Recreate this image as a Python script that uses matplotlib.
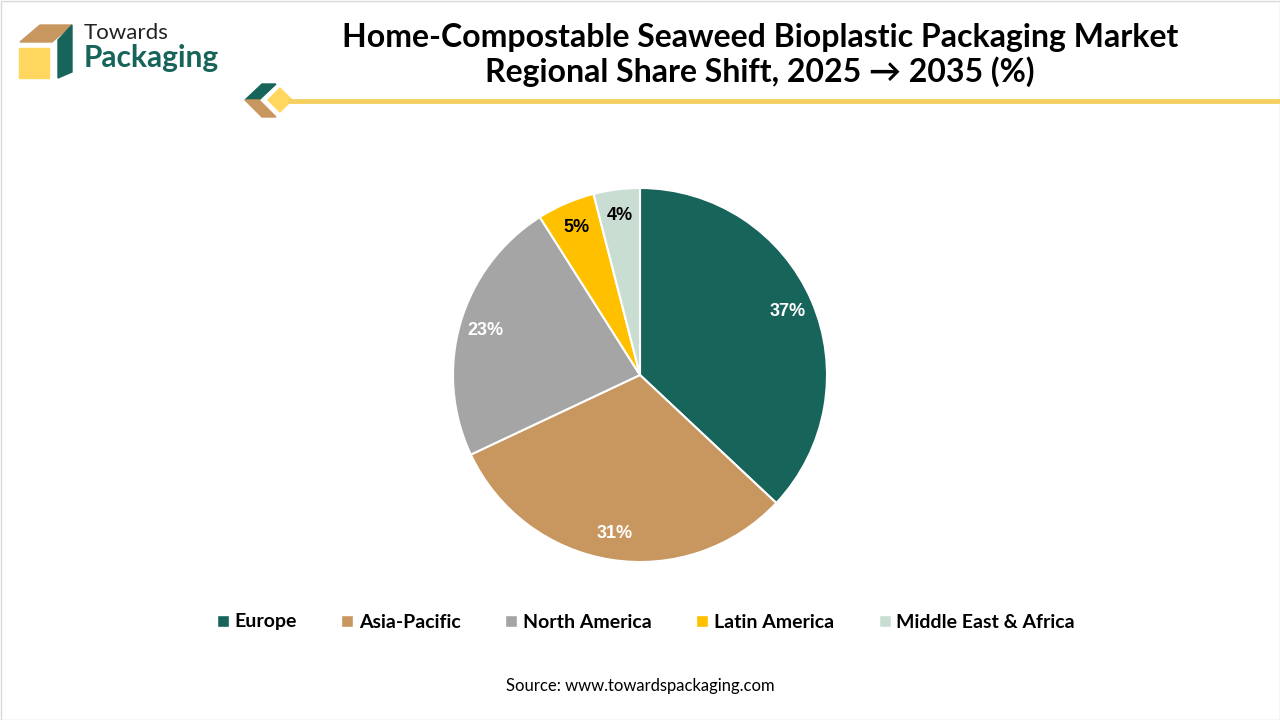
import matplotlib.pyplot as plt
from matplotlib.patches import Polygon, Rectangle
from matplotlib.lines import Line2D

# data
regions = ['Europe', 'Asia-Pacific', 'North America', 'Latin America', 'Middle East & Africa']
shares = [37, 31, 23, 5, 4]
colors = ['#17645A', '#C8965F', '#A5A5A5', '#FFC000', '#CADDD3']
label_colors = ['white', 'white', 'white', 'black', 'black']

title = 'Home-Compostable Seaweed Bioplastic Packaging Market\nRegional Share Shift, 2025 \u2192 2035 (%)'
source = 'Source: www.towardspackaging.com'

plt.rcParams['font.family'] = ['Lato', 'DejaVu Sans']

W, H = 1280, 720
fig = plt.figure(figsize=(12.8, 7.2), dpi=100)

# overlay axes in pixel coords for logo / decorations
deco = fig.add_axes([0, 0, 1, 1])
deco.set_xlim(0, W)
deco.set_ylim(H, 0)
deco.axis('off')

# frame
deco.add_patch(Rectangle((0.5, 0.5), W - 1, H - 1, fill=False, ec='#D9D9D9', lw=1))

# logo
deco.add_patch(Polygon([[20, 42], [52, 42], [72, 25], [40, 25]], color='#C8965F'))
deco.add_patch(Polygon([[58, 78], [72, 72], [72, 25], [58, 40]], color='#17645A'))
deco.add_patch(Rectangle((19, 48), 30, 30, color='#FFD75E'))
deco.text(84, 33, 'Towards', fontsize=16, color='#222222', va='center', ha='left')
deco.text(84, 58, 'Packaging', fontsize=21.5, color='#17645A', fontweight='bold', va='center', ha='left')

# decoration near the line
deco.add_patch(Polygon([[245, 100], [262, 84], [276, 84], [259, 100]], color='#17645A'))
deco.add_patch(Polygon([[245, 100], [262, 117], [276, 117], [259, 100]], color='#C8965F'))
deco.add_patch(Polygon([[268, 100], [280, 88], [292, 100], [280, 112]], color='#FFD75E'))
deco.add_line(Line2D([290, W], [101, 101], color='#F5D060', lw=3.5))

fig.text(760 / W, 1 - 55 / H, title, ha='center', va='center', fontsize=23,
         fontweight='bold', color='black', linespacing=1.2, multialignment='center')

# pie
ax = fig.add_axes([(640 - 187) / W, (H - 562) / H, 374 / W, 374 / H])
wedges, texts, autotexts = ax.pie(
    shares, colors=colors, startangle=90, counterclock=False,
    autopct='%d%%', pctdistance=0.86,
    wedgeprops=dict(edgecolor='white', linewidth=1.5),
    textprops=dict(fontsize=13, fontweight='bold', family=['Liberation Sans', 'DejaVu Sans']))
for t, c in zip(autotexts, label_colors):
    t.set_color(c)
ax.set_xlim(-1, 1)
ax.set_ylim(-1, 1)
ax.set_aspect('equal')

handles = [Line2D([0], [0], marker='s', color='w', markerfacecolor=c,
                  markersize=8, linestyle='') for c in colors]
fig.legend(handles, regions, loc='center', bbox_to_anchor=(643 / W, 1 - 622 / H),
           ncol=5, frameon=False, handletextpad=0.0, handlelength=1.2,
           columnspacing=2.0, prop=dict(weight='bold', size=14))

fig.text(0.5, 1 - 686 / H, source, ha='center', va='center', fontsize=12, color='black')

fig.savefig('out.png', dpi=100, facecolor='white')
